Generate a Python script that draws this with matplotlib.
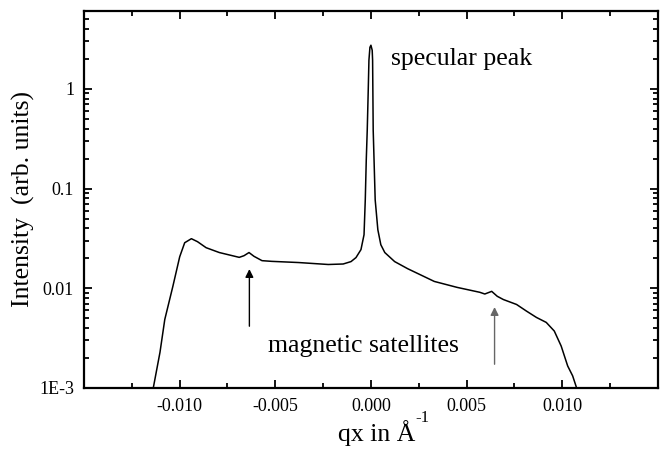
import numpy as np
import matplotlib
matplotlib.use('Agg')
import matplotlib.pyplot as plt
from matplotlib.ticker import MultipleLocator, LogLocator, FixedLocator, FixedFormatter, NullFormatter

plt.rcParams['font.family'] = ['Liberation Serif', 'DejaVu Serif']

# qx (1/A) та інтенсивність
qx = [-0.01145, -0.01102, -0.01077, -0.01035, -0.00999, -0.00973, -0.00938,
      -0.00906, -0.00861, -0.00792, -0.00688, -0.00663, -0.00637, -0.00611,
      -0.00569, -0.00518, -0.00378, -0.00223, -0.00145, -0.00104, -0.00078,
      -0.00052, -0.00036, -0.000295, -0.000243, -0.000192, -0.00014,
      -0.000104, -0.000052, 0.0, 0.000067, 0.000088, 0.000119, 0.000223,
      0.000362, 0.000518, 0.000725, 0.00124, 0.00192, 0.00331, 0.0045,
      0.00569, 0.00595, 0.00631, 0.0066, 0.00692, 0.00761, 0.00813, 0.00865,
      0.00916, 0.00958, 0.00994, 0.01028, 0.01054, 0.01071, 0.01087]
intensity = [8.3e-4, 2.28e-3, 4.86e-3, 0.0104, 0.0207, 0.0286, 0.0314,
             0.0293, 0.0255, 0.0228, 0.0204, 0.0212, 0.0228, 0.0209,
             0.0189, 0.0186, 0.0181, 0.0173, 0.0175, 0.0185, 0.0203,
             0.0244, 0.0344, 0.077, 0.194, 0.386, 0.97,
             1.94, 2.61, 2.74, 2.44, 1.94, 0.386, 0.077,
             0.0386, 0.0273, 0.0228, 0.0185, 0.0157, 0.0117, 0.0102,
             0.0091, 0.00875, 0.0093, 0.0083, 0.0077, 0.00687, 0.00589, 0.00509,
             0.00454, 0.00372, 0.00263, 0.00166, 0.00132, 0.00105, 8.3e-4]

y_ticks = [1e-3, 1e-2, 1e-1, 1]
y_labels = ['1E-3', '0.01', '0.1', '1']

fig = plt.figure(figsize=(6.6, 4.5), dpi=100)
ax = fig.add_axes([0.127, 0.138, 0.87, 0.838])

ax.plot(qx, intensity, color='black', lw=1.1)
ax.set_yscale('log')
ax.set_xlim(-0.015, 0.015)
ax.set_ylim(1e-3, 6.07)

ax.xaxis.set_major_locator(MultipleLocator(0.005))
ax.xaxis.set_minor_locator(MultipleLocator(0.0025))
ax.xaxis.set_major_formatter(plt.FuncFormatter(lambda v, p: f'{v:.3f}' if abs(v) < 0.0149 else ''))
ax.yaxis.set_major_locator(FixedLocator(y_ticks))
ax.yaxis.set_major_formatter(FixedFormatter(y_labels))
ax.yaxis.set_minor_locator(LogLocator(base=10, subs=np.arange(2, 10)))
ax.yaxis.set_minor_formatter(NullFormatter())

ax.tick_params(which='both', direction='in', top=True, right=True, labelsize=13, width=1.3, pad=7)
ax.tick_params(which='major', length=6)
ax.tick_params(which='minor', length=3.5)
for s in ax.spines.values():
    s.set_linewidth(1.6)

# підпис осі x: "Å" і окремо верхній індекс "-1" з дефісом
xl = ax.set_xlabel('qx in Å', fontsize=18.5, labelpad=4)
xl.set_x(0.51)
ax.annotate('-1', xy=(1.0, 0.78), xycoords=xl, fontsize=12, ha='left', va='bottom')
ax.set_ylabel('Intensity  (arb. units)', fontsize=18.5, labelpad=3)

ax.text(0.00104, 1.74, 'specular peak', fontsize=18.5, ha='left', va='baseline')
ax.text(-0.0004, 2.63e-3, 'magnetic satellites', fontsize=18.5, ha='center', va='center')

ax.annotate('', xy=(-0.00635, 0.0166), xytext=(-0.00635, 3.9e-3),
            arrowprops=dict(arrowstyle='-|>', color='black', lw=1.0, mutation_scale=12))
ax.annotate('', xy=(0.00646, 6.9e-3), xytext=(0.00646, 1.62e-3),
            arrowprops=dict(arrowstyle='-|>', color='#666666', lw=1.0, mutation_scale=12))

fig.savefig('out.png', dpi=100)
